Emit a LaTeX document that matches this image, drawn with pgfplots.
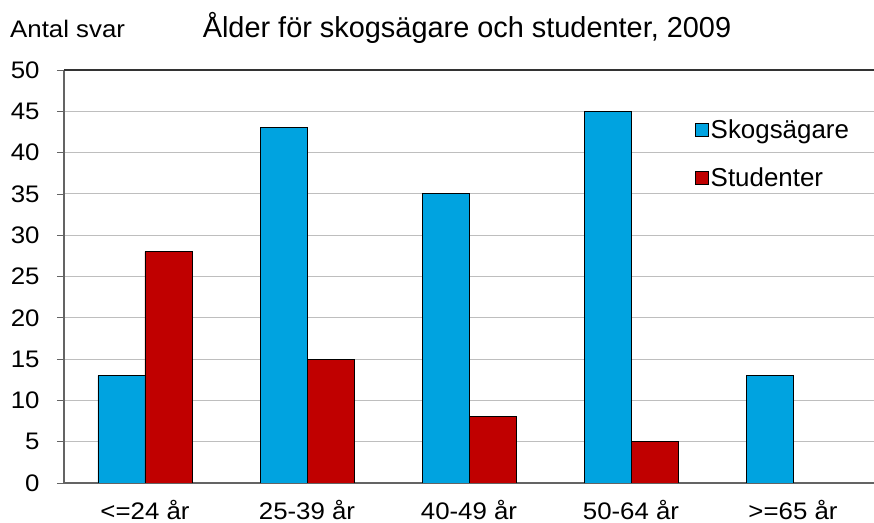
\documentclass[border=0pt]{standalone}
\usepackage{fontspec}
\setmainfont{Liberation Sans}
\newfontfamily\wide{Liberation Sans}[FakeStretch=1.08]
\usepackage{pgfplots}
\pgfplotsset{compat=1.18}
\definecolor{skog}{RGB}{0,163,224}
\definecolor{stud}{RGB}{192,0,0}
\definecolor{axgray}{RGB}{100,100,100}
\definecolor{gridgray}{RGB}{190,190,190}
\begin{document}
\begin{tikzpicture}
\useasboundingbox (-64bp,-40bp) rectangle (810bp,483bp);
\begin{axis}[
  at={(0,0)}, anchor=south west,
  scale only axis, width=810bp, height=413bp,
  font=\wide\fontsize{24}{28}\selectfont,
  /pgf/number format/assume math mode=true,
  ybar=0pt, bar width=47bp,
  xmin=-0.5, xmax=4.5, ymin=0, ymax=50,
  axis x line*=bottom, axis y line*=left,
  axis line style={axgray, line width=1.2pt},
  xtick={0,1,2,3,4},
  xticklabels={{<=24 år},{25-39 år},{40-49 år},{50-64 år},{>=65 år}},
  x tick style={draw=none},
  extra x ticks={-0.5,0.5,1.5,2.5,3.5},
  extra x tick labels={},
  extra x tick style={major tick length=7bp, tick style={axgray, line width=0.8pt, draw=axgray}},
  xticklabel style={anchor=base, yshift=-29bp},
  ytick={0,5,...,45},
  extra y ticks={50},
  extra y tick style={grid style={black!80, line width=1.2pt}},
  tick align=outside, major tick length=7bp,
  y tick style={axgray, line width=0.8pt},
  yticklabel style={xshift=-14bp},
  ymajorgrids, grid style={gridgray, line width=1pt},
  legend style={at={(0.775,0.89)}, anchor=north west, draw=none, fill=none,
    row sep=24bp, font=\normalfont\fontsize{26}{30}\selectfont},
  legend cell align=left,
  legend image code/.code={\draw[#1, line width=0.8pt] (0bp,-6.5bp) rectangle (13bp,6.5bp);},
]
\addplot[fill=skog, draw=black, line width=1pt] coordinates {(0,13) (1,43) (2,35) (3,45) (4,13)};
\addplot[fill=stud, draw=black, line width=1pt] coordinates {(0,28) (1,15) (2,8) (3,5) (4,0)};
\legend{Skogsägare, Studenter}
\end{axis}
\node[anchor=base west, font=\wide\fontsize{24}{28}\selectfont, inner sep=0pt] at (-54bp,445bp) {Antal svar};
\node[anchor=base, font=\fontsize{29}{34}\selectfont, inner sep=0pt] at (403bp,445bp) {Ålder för skogsägare och studenter, 2009};
\end{tikzpicture}
\end{document}
